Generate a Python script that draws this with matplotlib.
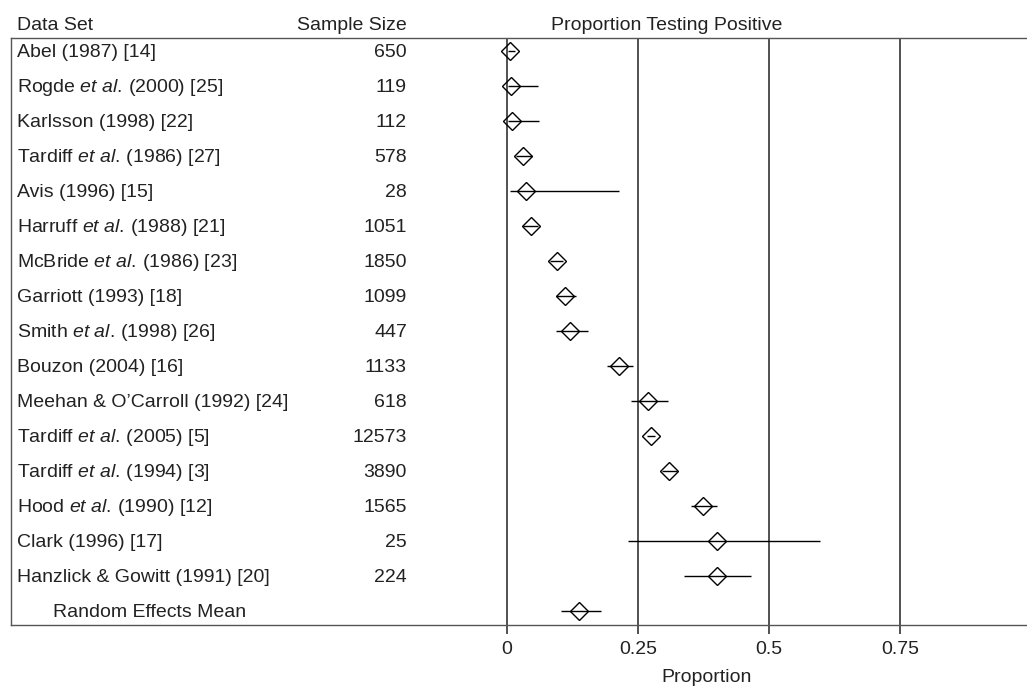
import matplotlib
matplotlib.use("Agg")
import matplotlib.pyplot as plt
from matplotlib.transforms import blended_transform_factory, offset_copy

plt.rcParams["font.family"] = ["Liberation Sans", "DejaVu Sans"]
plt.rcParams["mathtext.fontset"] = "custom"
plt.rcParams["mathtext.rm"] = "Liberation Sans"
plt.rcParams["mathtext.it"] = "Liberation Sans:italic"

# data
studies = [
    "Abel (1987) [14]",
    r"Rogde $\it{et\ al.}\,$(2000) [25]",
    "Karlsson (1998) [22]",
    r"Tardiff $\it{et\ al.}\,$(1986) [27]",
    "Avis (1996) [15]",
    r"Harruff $\it{et\ al.}\,$(1988) [21]",
    r"McBride $\it{et\ al.}\,$(1986) [23]",
    "Garriott (1993) [18]",
    r"Smith $\it{et\ al.}\,$(1998) [26]",
    "Bouzon (2004) [16]",
    "Meehan & O’Carroll (1992) [24]",
    r"Tardiff $\it{et\ al.}\,$(2005) [5]",
    r"Tardiff $\it{et\ al.}\,$(1994) [3]",
    r"Hood $\it{et\ al.}\,$(1990) [12]",
    "Clark (1996) [17]",
    "Hanzlick & Gowitt (1991) [20]",
]
sample_size = [650, 119, 112, 578, 28, 1051, 1850, 1099, 447, 1133, 618,
               12573, 3890, 1565, 25, 224]
prop = [0.006, 0.008, 0.009, 0.030, 0.036, 0.045, 0.095, 0.111, 0.120,
        0.214, 0.270, 0.275, 0.310, 0.375, 0.401, 0.401]
ci_low = [0.002, 0.001, 0.001, 0.018, 0.006, 0.031, 0.082, 0.093, 0.094,
          0.191, 0.237, 0.267, 0.296, 0.351, 0.231, 0.338]
ci_high = [0.015, 0.059, 0.061, 0.047, 0.214, 0.059, 0.107, 0.131, 0.154,
           0.240, 0.307, 0.283, 0.324, 0.400, 0.597, 0.466]
re_label = "Random Effects Mean"
re_mean = 0.137
re_low = 0.104
re_high = 0.179

xticks = [0, 0.25, 0.5, 0.75]
xtick_labels = ["0", "0.25", "0.5", "0.75"]

W, H = 1027, 688
FS = 14
TXT = "#222222"
fig = plt.figure(figsize=(W / 100, H / 100), dpi=100)
ax = fig.add_axes([10.5 / W, (H - 625) / H, 1 - 10.5 / W, (625 - 38) / H])

rows = list(range(len(studies))) + [len(studies)]
vals = prop + [re_mean]
lo = ci_low + [re_low]
hi = ci_high + [re_high]

for x in xticks:
    ax.axvline(x, color="#333333", lw=1.2, zorder=1)

ax.hlines(rows, lo, hi, color="black", lw=1.0, zorder=2)
ax.plot(vals, rows, linestyle="none", marker="D", ms=9.5, mfc="none",
        mec="black", mew=1.0, zorder=3)

ax.set_xlim(-0.9475, 0.9924)
ax.set_ylim(16.4, -0.371)
ax.set_yticks([])
ax.set_xticks(xticks)
ax.set_xticklabels(xtick_labels, fontsize=FS, color=TXT)
ax.tick_params(axis="x", length=6.5, width=1.2, color="#333333", pad=5)

for side in ["top", "bottom", "left"]:
    ax.spines[side].set_color("#555555")
    ax.spines[side].set_linewidth(1.0)
ax.spines["right"].set_visible(False)

# table columns, baseline placed a little below each row centre
row_tr = offset_copy(ax.transData, fig=fig, y=-4.6, units="points")
x_name = -0.935
x_size = -0.191
for i, (name, n) in enumerate(zip(studies, sample_size)):
    ax.text(x_name, i, name, ha="left", va="baseline", fontsize=FS,
            color=TXT, transform=row_tr)
    ax.text(x_size, i, str(n), ha="right", va="baseline", fontsize=FS,
            color=TXT, transform=row_tr)
ax.text(-0.866, len(studies), re_label, ha="left", va="baseline",
        fontsize=FS, color=TXT, transform=row_tr)

# column headers
trans = blended_transform_factory(ax.transData, fig.transFigure)
head_y = 1 - 26 / H
ax.text(x_name, head_y, "Data Set", transform=trans, ha="left",
        va="center", fontsize=FS, color=TXT)
ax.text(x_size, head_y, "Sample Size", transform=trans, ha="right",
        va="center", fontsize=FS, color=TXT)
ax.text(0.305, head_y, "Proportion Testing Positive", transform=trans,
        ha="center", va="center", fontsize=FS, color=TXT)
ax.text(0.38, 1 - 677 / H, "Proportion", transform=trans, ha="center",
        va="center", fontsize=FS, color=TXT)

fig.savefig("out.png", dpi=100)
